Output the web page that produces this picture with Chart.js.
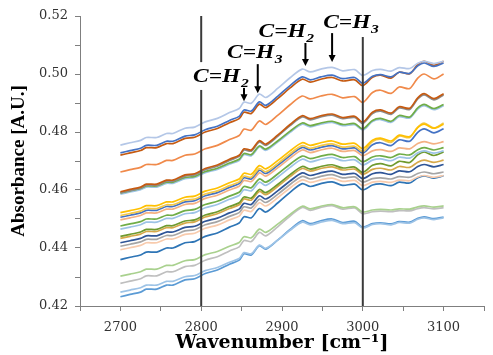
<!DOCTYPE html>
<html>
<head>
<meta charset="utf-8">
<script src="https://cdn.jsdelivr.net/npm/chart.js@4.4.0/dist/chart.umd.min.js"></script>
<style>
  html, body { margin: 0; padding: 0; background: #fff; }
  #wrap { width: 493px; height: 355px; }
</style>
</head>
<body>
<div id="wrap"><canvas id="ftirChart" width="493" height="355"></canvas></div>
<script>
// --- Spectra (wavenumber in cm-1, absorbance in A.U.) ---
const wavenumbers = [2700,2712,2725,2732,2745,2757,2765,2780,2792,2805,2820,2835,2847,2853,2862,2872,2880,2895,2910,2925,2935,2948,2962,2975,2990,3000,3012,3022,3035,3045,3058,3068,3076,3088,3100];

const spec01 = [0.4755,0.4763,0.4771,0.4781,0.4781,0.4795,0.4795,0.4813,0.4817,0.4835,0.4847,0.4867,0.4881,0.4903,0.4899,0.4931,0.4919,0.4951,0.4987,0.5017,0.5007,0.5017,0.5023,0.5011,0.5015,0.4995,0.5012,0.5016,0.5010,0.5022,0.5019,0.5037,0.5044,0.5036,0.5044];
const spec02 = [0.4728,0.4736,0.4744,0.4754,0.4754,0.4768,0.4768,0.4786,0.4790,0.4808,0.4820,0.4840,0.4854,0.4876,0.4872,0.4904,0.4892,0.4924,0.4960,0.4990,0.4980,0.4990,0.4996,0.4984,0.4988,0.4968,0.4992,0.4998,0.4990,0.5006,0.5002,0.5028,0.5038,0.5026,0.5038];
const spec03 = [0.4720,0.4728,0.4736,0.4746,0.4746,0.4760,0.4760,0.4778,0.4782,0.4800,0.4812,0.4832,0.4846,0.4868,0.4864,0.4896,0.4884,0.4916,0.4952,0.4982,0.4972,0.4982,0.4988,0.4976,0.4980,0.4960,0.4989,0.4996,0.4986,0.5006,0.5001,0.5032,0.5044,0.5030,0.5044];
const spec04 = [0.4662,0.4670,0.4678,0.4688,0.4688,0.4702,0.4702,0.4720,0.4724,0.4742,0.4754,0.4774,0.4788,0.4810,0.4806,0.4838,0.4826,0.4858,0.4894,0.4924,0.4914,0.4924,0.4930,0.4918,0.4922,0.4902,0.4936,0.4944,0.4933,0.4955,0.4950,0.4986,0.5000,0.4983,0.5000];
const spec05 = [0.4594,0.4602,0.4610,0.4620,0.4620,0.4634,0.4634,0.4652,0.4656,0.4674,0.4686,0.4706,0.4720,0.4742,0.4738,0.4770,0.4758,0.4790,0.4826,0.4856,0.4846,0.4856,0.4862,0.4850,0.4854,0.4834,0.4868,0.4876,0.4865,0.4887,0.4882,0.4918,0.4932,0.4915,0.4932];
const spec06 = [0.4590,0.4598,0.4606,0.4616,0.4616,0.4630,0.4630,0.4648,0.4652,0.4670,0.4682,0.4702,0.4716,0.4738,0.4734,0.4766,0.4754,0.4786,0.4822,0.4852,0.4842,0.4852,0.4858,0.4846,0.4850,0.4830,0.4864,0.4872,0.4861,0.4883,0.4878,0.4914,0.4928,0.4911,0.4928];
const spec07 = [0.4590,0.4597,0.4605,0.4614,0.4614,0.4627,0.4627,0.4643,0.4647,0.4664,0.4675,0.4693,0.4706,0.4726,0.4722,0.4752,0.4741,0.4770,0.4803,0.4831,0.4822,0.4831,0.4837,0.4826,0.4829,0.4811,0.4840,0.4847,0.4837,0.4857,0.4852,0.4883,0.4895,0.4881,0.4895];
const spec08 = [0.4586,0.4593,0.4601,0.4610,0.4610,0.4623,0.4623,0.4639,0.4643,0.4660,0.4671,0.4689,0.4702,0.4722,0.4718,0.4748,0.4737,0.4766,0.4799,0.4827,0.4818,0.4827,0.4833,0.4822,0.4825,0.4807,0.4836,0.4843,0.4833,0.4853,0.4848,0.4879,0.4891,0.4877,0.4891];
const spec09 = [0.4522,0.4529,0.4537,0.4546,0.4546,0.4559,0.4559,0.4575,0.4579,0.4596,0.4607,0.4625,0.4638,0.4658,0.4654,0.4684,0.4673,0.4702,0.4735,0.4763,0.4754,0.4763,0.4769,0.4758,0.4761,0.4743,0.4772,0.4779,0.4769,0.4789,0.4784,0.4815,0.4827,0.4813,0.4827];
const spec10 = [0.4512,0.4519,0.4527,0.4536,0.4536,0.4549,0.4549,0.4565,0.4569,0.4586,0.4597,0.4615,0.4628,0.4648,0.4644,0.4674,0.4663,0.4692,0.4725,0.4753,0.4744,0.4753,0.4759,0.4748,0.4751,0.4733,0.4767,0.4775,0.4764,0.4786,0.4781,0.4817,0.4831,0.4814,0.4831];
const spec11 = [0.4506,0.4513,0.4521,0.4530,0.4530,0.4543,0.4543,0.4559,0.4563,0.4580,0.4591,0.4609,0.4622,0.4642,0.4638,0.4668,0.4657,0.4686,0.4719,0.4747,0.4738,0.4747,0.4753,0.4742,0.4745,0.4727,0.4756,0.4763,0.4753,0.4773,0.4768,0.4799,0.4811,0.4797,0.4811];
const spec12 = [0.4497,0.4504,0.4512,0.4521,0.4521,0.4534,0.4534,0.4550,0.4554,0.4571,0.4582,0.4600,0.4613,0.4633,0.4629,0.4659,0.4648,0.4677,0.4710,0.4738,0.4729,0.4738,0.4744,0.4733,0.4736,0.4718,0.4735,0.4739,0.4733,0.4745,0.4742,0.4760,0.4767,0.4759,0.4767];
const spec13 = [0.4476,0.4483,0.4491,0.4500,0.4500,0.4513,0.4513,0.4529,0.4533,0.4550,0.4561,0.4579,0.4592,0.4612,0.4608,0.4638,0.4627,0.4656,0.4689,0.4717,0.4708,0.4717,0.4723,0.4712,0.4715,0.4697,0.4714,0.4718,0.4712,0.4724,0.4721,0.4739,0.4746,0.4738,0.4746];
const spec14 = [0.4465,0.4472,0.4480,0.4489,0.4489,0.4502,0.4502,0.4518,0.4522,0.4539,0.4550,0.4568,0.4581,0.4601,0.4597,0.4627,0.4616,0.4645,0.4678,0.4706,0.4697,0.4706,0.4712,0.4701,0.4704,0.4686,0.4703,0.4707,0.4701,0.4713,0.4710,0.4728,0.4735,0.4727,0.4735];
const spec15 = [0.4440,0.4447,0.4455,0.4464,0.4464,0.4477,0.4477,0.4493,0.4497,0.4514,0.4525,0.4543,0.4556,0.4576,0.4572,0.4602,0.4591,0.4620,0.4653,0.4681,0.4672,0.4681,0.4687,0.4676,0.4679,0.4661,0.4685,0.4691,0.4683,0.4699,0.4695,0.4721,0.4731,0.4719,0.4731];
const spec16 = [0.4433,0.4440,0.4448,0.4457,0.4457,0.4470,0.4470,0.4486,0.4490,0.4507,0.4518,0.4536,0.4549,0.4569,0.4565,0.4595,0.4584,0.4613,0.4646,0.4674,0.4665,0.4674,0.4680,0.4669,0.4672,0.4654,0.4671,0.4675,0.4669,0.4681,0.4678,0.4696,0.4703,0.4695,0.4703];
const spec17 = [0.4418,0.4425,0.4433,0.4442,0.4442,0.4455,0.4455,0.4471,0.4475,0.4492,0.4503,0.4521,0.4534,0.4554,0.4550,0.4580,0.4569,0.4598,0.4631,0.4659,0.4650,0.4659,0.4665,0.4654,0.4657,0.4639,0.4656,0.4660,0.4654,0.4666,0.4663,0.4681,0.4688,0.4680,0.4688];
const spec18 = [0.4406,0.4413,0.4421,0.4430,0.4430,0.4443,0.4443,0.4459,0.4463,0.4480,0.4491,0.4509,0.4522,0.4542,0.4538,0.4568,0.4557,0.4586,0.4619,0.4647,0.4638,0.4647,0.4653,0.4642,0.4645,0.4627,0.4639,0.4642,0.4638,0.4646,0.4644,0.4657,0.4662,0.4656,0.4662];
const spec19 = [0.4394,0.4401,0.4409,0.4418,0.4418,0.4431,0.4431,0.4447,0.4451,0.4468,0.4479,0.4497,0.4510,0.4530,0.4526,0.4556,0.4545,0.4574,0.4607,0.4635,0.4626,0.4635,0.4641,0.4630,0.4633,0.4615,0.4627,0.4630,0.4626,0.4634,0.4632,0.4645,0.4650,0.4644,0.4650];
const spec20 = [0.4360,0.4368,0.4376,0.4386,0.4386,0.4400,0.4400,0.4418,0.4422,0.4440,0.4452,0.4472,0.4486,0.4508,0.4504,0.4536,0.4524,0.4556,0.4592,0.4622,0.4612,0.4622,0.4628,0.4616,0.4620,0.4600,0.4617,0.4621,0.4615,0.4627,0.4624,0.4642,0.4649,0.4641,0.4649];
const spec21 = [0.4303,0.4310,0.4318,0.4327,0.4327,0.4340,0.4340,0.4356,0.4360,0.4377,0.4388,0.4406,0.4419,0.4439,0.4435,0.4465,0.4454,0.4483,0.4516,0.4544,0.4535,0.4544,0.4550,0.4539,0.4542,0.4524,0.4531,0.4533,0.4531,0.4535,0.4534,0.4542,0.4545,0.4541,0.4545];
const spec22 = [0.4278,0.4286,0.4294,0.4304,0.4304,0.4318,0.4318,0.4336,0.4340,0.4358,0.4370,0.4390,0.4404,0.4426,0.4422,0.4454,0.4442,0.4474,0.4510,0.4540,0.4530,0.4540,0.4546,0.4534,0.4538,0.4518,0.4525,0.4527,0.4525,0.4529,0.4528,0.4536,0.4539,0.4535,0.4539];
const spec23 = [0.4248,0.4255,0.4263,0.4272,0.4272,0.4285,0.4285,0.4301,0.4305,0.4322,0.4333,0.4351,0.4364,0.4384,0.4380,0.4410,0.4399,0.4428,0.4461,0.4489,0.4480,0.4489,0.4495,0.4484,0.4487,0.4469,0.4481,0.4484,0.4480,0.4488,0.4486,0.4499,0.4504,0.4498,0.4504];
const spec24 = [0.4232,0.4240,0.4248,0.4258,0.4258,0.4272,0.4272,0.4290,0.4294,0.4312,0.4324,0.4344,0.4358,0.4380,0.4376,0.4408,0.4396,0.4428,0.4464,0.4494,0.4484,0.4494,0.4500,0.4488,0.4492,0.4472,0.4484,0.4487,0.4483,0.4491,0.4489,0.4502,0.4507,0.4501,0.4507];

const spectra = [spec01, spec02, spec03, spec04, spec05, spec06, spec07, spec08, spec09, spec10, spec11, spec12,
                 spec13, spec14, spec15, spec16, spec17, spec18, spec19, spec20, spec21, spec22, spec23, spec24];

// Excel-like palette, one colour per spectrum
const lineColors = ['#b4c7e7', '#4472c4', '#c55a11', '#f08a4b', '#c55a11', '#8c8c8c', '#70ad47', '#9dc3e6',
                    '#ffc000', '#f2c84b', '#4472c4', '#f4b183', '#70ad47', '#9dc3e6', '#6f9a2e', '#d6a84a',
                    '#2f5597', '#a5a5a5', '#f8cbad', '#2e75b6', '#a9d18e', '#bfbfbf', '#9dc3e6', '#5b9bd5'];

// Band assignments (arrows)
const bandGroups = ['C=H', 'C=H', 'C=H', 'C=H'];
const bandSubscripts = ['2', '3', '2', '3'];
const bandWavenumbers = [2853, 2870, 2929, 2962];

// Reference lines
const markerWavenumbers = [2800, 3000];

// --- Placement of the overlay (data units) ---
const arrowFrom = [0.4952, 0.5034, 0.5107, 0.5141];
const arrowTo   = [0.4906, 0.4934, 0.5028, 0.5041];
const labelAt   = [[2790, 0.4972], [2832, 0.5055], [2871, 0.5128], [2951, 0.5159]];
const markerSegments = [
    [[0.52, 0.5041], [0.4945, 0.42]],
    [[0.5128, 0.42]]
];

const bandOverlay = {
    id: 'bandOverlay',
    afterDatasetsDraw(chart) {
        const { ctx, scales: { x, y } } = chart;
        ctx.save();

        // vertical lines at 2800 and 3000
        ctx.strokeStyle = '#3a3a3a';
        ctx.lineWidth = 2;
        markerWavenumbers.forEach((w, i) => {
            const px = x.getPixelForValue(w);
            markerSegments[i].forEach(([a, b]) => {
                ctx.beginPath();
                ctx.moveTo(px, y.getPixelForValue(a));
                ctx.lineTo(px, y.getPixelForValue(b));
                ctx.stroke();
            });
        });

        // arrows and labels
        ctx.fillStyle = '#000';
        ctx.strokeStyle = '#000';
        bandWavenumbers.forEach((w, i) => {
            const px = x.getPixelForValue(w);
            const y0 = y.getPixelForValue(arrowFrom[i]);
            const y1 = y.getPixelForValue(arrowTo[i]);
            ctx.lineWidth = 2;
            ctx.beginPath();
            ctx.moveTo(px, y0);
            ctx.lineTo(px, y1 - 5);
            ctx.stroke();
            ctx.beginPath();
            ctx.moveTo(px - 3.5, y1 - 7);
            ctx.lineTo(px + 3.5, y1 - 7);
            ctx.lineTo(px, y1);
            ctx.closePath();
            ctx.fill();

            const tx = x.getPixelForValue(labelAt[i][0]);
            const ty = y.getPixelForValue(labelAt[i][1]);
            ctx.save();
            ctx.translate(tx, ty);
            ctx.scale(1.3, 1);
            ctx.textBaseline = 'alphabetic';
            ctx.font = 'italic bold 18px "Liberation Serif"';
            ctx.fillText(bandGroups[i], 0, 0);
            const mainW = ctx.measureText(bandGroups[i]).width;
            ctx.font = 'italic bold 12px "Liberation Serif"';
            ctx.fillText(bandSubscripts[i], mainW + 0.5, 5);
            ctx.restore();
        });
        ctx.restore();
    }
};

const datasets = spectra.map((spec, i) => ({
    data: wavenumbers.map((w, j) => ({ x: w, y: spec[j] })),
    borderColor: lineColors[i],
    backgroundColor: lineColors[i],
    borderWidth: 1.7,
    pointRadius: 0,
    tension: 0.3,
    fill: false
}));

const ctx = document.getElementById('ftirChart').getContext('2d');
new Chart(ctx, {
    type: 'line',
    data: { datasets: datasets },
    options: {
        responsive: false,
        animation: false,
        layout: { padding: { top: 16, right: 1, left: 0, bottom: 0 } },
        plugins: { legend: { display: false }, tooltip: { enabled: false } },
        scales: {
            x: {
                type: 'linear',
                min: 2650,
                max: 3150,
                ticks: {
                    stepSize: 50,
                    autoSkip: false,
                    maxRotation: 0,
                    padding: 9,
                    color: '#333',
                    font: { family: 'DejaVu Serif', size: 13 },
                    callback: v => (v % 100 === 0 && v >= 2700 && v <= 3100) ? String(v) : ''
                },
                grid: { drawOnChartArea: false, color: '#7f7f7f', tickLength: 5 },
                border: { color: '#7f7f7f', width: 1 },
                title: {
                    display: true,
                    text: 'Wavenumber [cm⁻¹]',
                    color: '#000',
                    font: { family: 'DejaVu Serif', size: 19, weight: 'bold' },
                    padding: { top: 0, bottom: 1 }
                },
                afterFit: s => { s.height = 49; }
            },
            y: {
                min: 0.42,
                max: 0.52,
                ticks: {
                    stepSize: 0.01,
                    autoSkip: false,
                    padding: 7,
                    color: '#333',
                    font: { family: 'DejaVu Serif', size: 13 },
                    callback: v => (Math.round(v * 100) % 2 === 0) ? v.toFixed(2) : ''
                },
                grid: { drawOnChartArea: false, color: '#7f7f7f', tickLength: 5 },
                border: { color: '#7f7f7f', width: 1 },
                title: {
                    display: true,
                    text: 'Absorbance [A.U.]',
                    color: '#000',
                    font: { family: 'Liberation Serif', size: 19, weight: 'bold' },
                    padding: { top: 8, bottom: 0 }
                },
                afterFit: s => { s.width = 80; }
            }
        }
    },
    plugins: [bandOverlay]
});
</script>
</body>
</html>
